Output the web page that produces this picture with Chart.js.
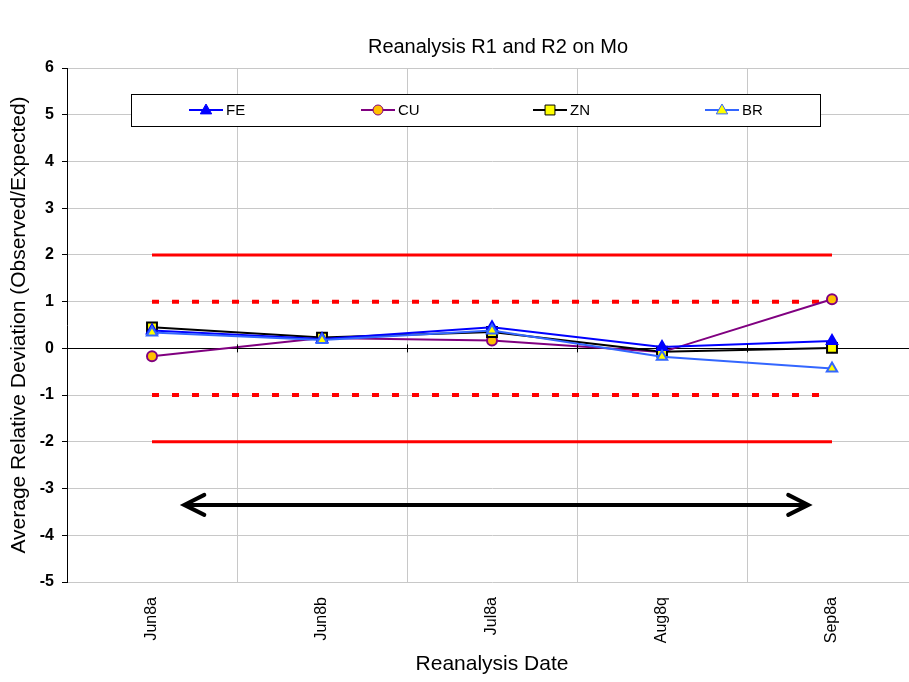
<!DOCTYPE html>
<html>
<head>
<meta charset="utf-8">
<script src="https://cdn.jsdelivr.net/npm/chart.js@4"></script>
<style>
  html, body { margin: 0; padding: 0; background: #fff; overflow: hidden; }
  #wrap { width: 996px; height: 682px; }
</style>
</head>
<body>
<div id="wrap"><canvas id="chart"></canvas></div>
<script>
const dates = ['Jun8a', 'Jun8b', 'Jul8a', 'Aug8q', 'Sep8a'];
const fe = [0.38, 0.20, 0.45, 0.03, 0.16];
const cu = [-0.17, 0.22, 0.17, -0.08, 1.05];
const zn = [0.45, 0.23, 0.35, -0.07, 0.01];
const br = [0.34, 0.18, 0.38, -0.18, -0.43];
const limit2 = [2, 2, 2, 2, 2];
const limit1 = [1, 1, 1, 1, 1];
const arrowX = [0.19, 3.86];
const arrowY = -3.35;

const FONT = '"Liberation Sans", Arial, sans-serif';

function drawMarker(ctx, style, x, y, r, fill, stroke) {
    ctx.save();
    ctx.fillStyle = fill;
    ctx.strokeStyle = stroke;
    ctx.lineWidth = 1;
    ctx.beginPath();
    if (style === 'triangle') {
        ctx.moveTo(x, y - r);
        ctx.lineTo(x + r * 0.95, y + r * 0.65);
        ctx.lineTo(x - r * 0.95, y + r * 0.65);
        ctx.closePath();
    } else if (style === 'rect') {
        const s = r * Math.SQRT1_2;
        ctx.rect(x - s, y - s, s * 2, s * 2);
    } else {
        ctx.arc(x, y, r, 0, Math.PI * 2);
    }
    ctx.fill();
    ctx.stroke();
    ctx.restore();
}

// legend box inside the plot + arrow + little ticks on the zero line
const extras = {
    id: 'extras',
    afterDatasetsDraw(chart) {
        const ctx = chart.ctx;
        const area = chart.chartArea;
        const xs = chart.scales.x;
        const ys = chart.scales.y;

        // tick marks on the zero axis at the category boundaries
        const y0 = ys.getPixelForValue(0);
        ctx.save();
        ctx.strokeStyle = '#000';
        ctx.lineWidth = 1;
        for (let i = 0; i < dates.length - 1; i++) {
            const px = Math.round(xs.getPixelForValue(i + 0.5)) + 0.5;
            ctx.beginPath();
            ctx.moveTo(px, y0 - 4);
            ctx.lineTo(px, y0 + 4);
            ctx.stroke();
        }
        ctx.restore();

        // double arrow
        const ax1 = xs.getPixelForValue(arrowX[0]);
        const ax2 = xs.getPixelForValue(arrowX[1]);
        const ay = ys.getPixelForValue(arrowY);
        ctx.save();
        ctx.strokeStyle = '#000';
        ctx.lineWidth = 4;
        ctx.lineCap = 'round';
        ctx.beginPath();
        ctx.moveTo(ax1 + 2, ay);
        ctx.lineTo(ax2 - 2, ay);
        ctx.stroke();
        ctx.beginPath();
        ctx.moveTo(ax1 + 20, ay - 10);
        ctx.lineTo(ax1, ay);
        ctx.lineTo(ax1 + 20, ay + 10);
        ctx.stroke();
        ctx.beginPath();
        ctx.moveTo(ax2 - 20, ay - 10);
        ctx.lineTo(ax2, ay);
        ctx.lineTo(ax2 - 20, ay + 10);
        ctx.stroke();
        ctx.restore();

        // legend
        const bx = area.left + 64, by = area.top + 26, bw = 689, bh = 32;
        ctx.save();
        ctx.fillStyle = '#fff';
        ctx.fillRect(bx, by, bw, bh);
        ctx.strokeStyle = '#000';
        ctx.lineWidth = 1;
        ctx.strokeRect(bx + 0.5, by + 0.5, bw, bh);
        ctx.font = '15px ' + FONT;
        ctx.textBaseline = 'middle';
        const series = chart.data.datasets.filter(d => d.inLegend);
        series.forEach((d, i) => {
            const lx = bx + 58 + i * 172;
            const ly = by + bh / 2;
            ctx.strokeStyle = d.borderColor;
            ctx.lineWidth = 2;
            ctx.beginPath();
            ctx.moveTo(lx, ly);
            ctx.lineTo(lx + 34, ly);
            ctx.stroke();
            drawMarker(ctx, d.pointStyle, lx + 17, ly, d.pointRadius,
                d.pointBackgroundColor, d.pointBorderColor);
            ctx.fillStyle = '#000';
            ctx.fillText(d.label, lx + 37, ly + 1);
        });
        ctx.restore();
    }
};

new Chart(document.getElementById('chart'), {
    type: 'line',
    data: {
        labels: dates,
        datasets: [
            {
                label: 'FE', data: fe, inLegend: true, order: 2,
                borderColor: '#0000FF', borderWidth: 2,
                pointStyle: 'triangle', pointRadius: 6,
                pointBackgroundColor: '#0000FF', pointBorderColor: '#0000FF'
            },
            {
                label: 'CU', data: cu, inLegend: true, order: 4,
                borderColor: '#800080', borderWidth: 2,
                pointStyle: 'circle', pointRadius: 5,
                pointBackgroundColor: '#FFC000', pointBorderColor: '#800080'
            },
            {
                label: 'ZN', data: zn, inLegend: true, order: 3,
                borderColor: '#000000', borderWidth: 2,
                pointStyle: 'rect', pointRadius: 7,
                pointBackgroundColor: '#FFFF00', pointBorderColor: '#000000'
            },
            {
                label: 'BR', data: br, inLegend: true, order: 1,
                borderColor: '#3366FF', borderWidth: 2,
                pointStyle: 'triangle', pointRadius: 6,
                pointBackgroundColor: '#FFFF00', pointBorderColor: '#3366FF'
            },
            {
                label: '+2', data: limit2, order: 10,
                borderColor: '#FF0000', borderWidth: 3, pointRadius: 0
            },
            {
                label: '-2', data: limit2.map(v => -v), order: 10,
                borderColor: '#FF0000', borderWidth: 3, pointRadius: 0
            },
            {
                label: '+1', data: limit1, order: 10,
                borderColor: '#FF0000', borderWidth: 4, borderDash: [7, 13], pointRadius: 0
            },
            {
                label: '-1', data: limit1.map(v => -v), order: 10,
                borderColor: '#FF0000', borderWidth: 4, borderDash: [7, 13], pointRadius: 0
            }
        ]
    },
    options: {
        responsive: true,
        maintainAspectRatio: false,
        animation: false,
        layout: { padding: 0 },
        plugins: {
            legend: { display: false },
            tooltip: { enabled: false },
            title: {
                display: true,
                text: 'Reanalysis R1 and R2 on Mo',
                color: '#000',
                font: { family: FONT, size: 20, weight: 'normal' },
                padding: { top: 35, bottom: 9 }
            }
        },
        scales: {
            x: {
                offset: true,
                afterFit: s => { s.height = 100; },
                grid: { offset: true, color: '#c8c8c8', drawTicks: false },
                border: { display: false },
                ticks: {
                    autoSkip: false, minRotation: 90, maxRotation: 90, padding: 15,
                    color: '#000',
                    font: { family: FONT, size: 16 }
                },
                title: {
                    display: true, text: 'Reanalysis Date', color: '#000',
                    font: { family: FONT, size: 21 },
                    padding: { top: 5, bottom: 5.5 }
                }
            },
            y: {
                min: -5, max: 6,
                afterFit: s => { s.width = 67; },
                grid: {
                    color: c => (c.tick && c.tick.value === 0) ? '#000' : '#c8c8c8',
                    tickColor: '#000', tickLength: 5
                },
                border: { display: true, color: '#000', width: 1 },
                ticks: {
                    stepSize: 1, padding: 8, color: '#000',
                    font: { family: FONT, size: 16, weight: 'bold' }
                },
                title: {
                    display: true, text: 'Average Relative Deviation (Observed/Expected)', color: '#000',
                    font: { family: FONT, size: 21 },
                    padding: { top: 6.5, bottom: 6.5 }
                }
            },
            // empty right-hand box so the plot ends where the reference plot ends
            spacer: {
                position: 'right',
                min: 0, max: 1,
                afterFit: s => { s.width = 79; },
                grid: { display: false },
                border: { display: false },
                ticks: { display: false },
                title: { display: false }
            }
        }
    },
    plugins: [extras]
});
</script>
</body>
</html>
